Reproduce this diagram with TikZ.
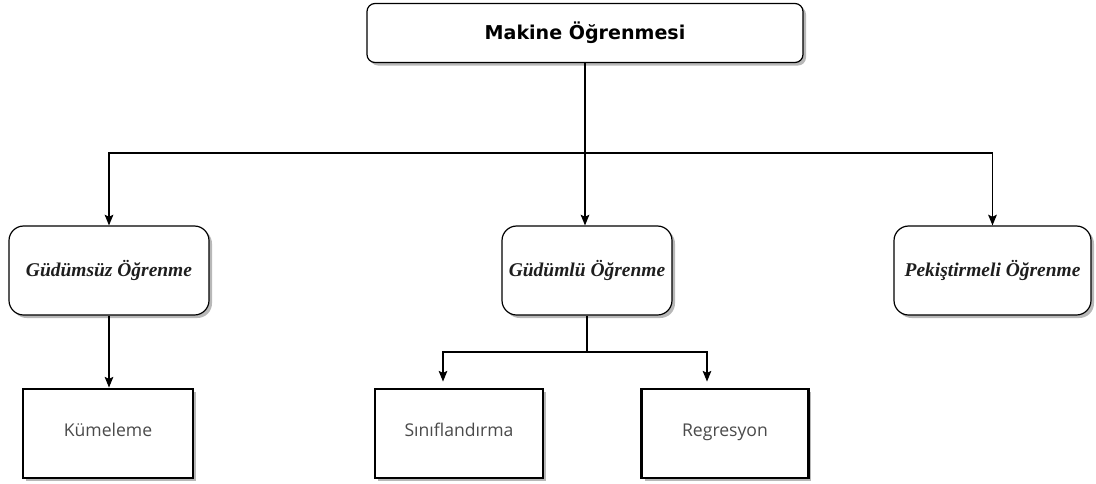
\documentclass[tikz,border=0pt]{standalone}
\usepackage{fontspec}
\usetikzlibrary{arrows.meta,shadows}
\newfontfamily\headfont{DejaVu Sans}
\newfontfamily\branchfont{Liberation Serif}
\newfontfamily\leaffont{Open Sans}
\definecolor{leaftext}{HTML}{4A4A4A}
\definecolor{branchtext}{HTML}{1E1E1E}
\tikzset{
  boxshadow/.style={drop shadow={shadow xshift=2.25pt, shadow yshift=-2.25pt, fill=black, opacity=0.28}},
  rootbox/.style={draw, line width=0.9pt, rounded corners=6pt, fill=white, boxshadow,
    minimum width=327pt, minimum height=44.25pt, font=\headfont\bfseries\fontsize{14.3}{16}\selectfont},
  branchbox/.style={draw, line width=0.9pt, rounded corners=11pt, fill=white, boxshadow,
    minimum height=66.75pt, text=branchtext, font=\branchfont\bfseries\itshape\fontsize{14.6}{16}\selectfont},
  leafbox/.style={draw, line width=2.2pt, fill=white, boxshadow, text height=0.72em, text depth=0.24em,
    minimum height=66.75pt, text=leaftext, font=\leaffont\fontsize{13.2}{15}\selectfont},
  link/.style={line width=0.9pt, -{Stealth[length=8pt,width=6.5pt,inset=1.5pt]}},
  plain/.style={line width=0.9pt}
}
\begin{document}
\begin{tikzpicture}[x=0.75pt,y=-0.75pt]
  \useasboundingbox (0,0) rectangle (1096,483);
  \fill[white] (0,0) rectangle (1096,483);

  % root
  \node[rootbox] (ml) at (585,33) {Makine Öğrenmesi};

  % learning paradigms
  \node[branchbox, minimum width=150pt]   (uns) at (109,270.5) {Güdümsüz Öğrenme};
  \node[branchbox, minimum width=127.5pt] (sup) at (587,270.5) {Güdümlü Öğrenme};
  \node[branchbox, minimum width=147.75pt] (rl) at (992.5,270.5) {Pekiştirmeli Öğrenme};

  % tasks
  \node[leafbox, minimum width=127.5pt] (clu) at (108,433.5) {Kümeleme};
  \node[leafbox, minimum width=126pt]   (cls) at (459,433.5) {Sınıflandırma};
  \node[leafbox, minimum width=125pt]   (reg) at (725,433.5) {Regresyon};

  % root fan-out
  \coordinate (split) at (585,153);
  \draw[plain] (ml.south) -- (split);
  \draw[link] (split) -| (uns.north);
  \draw[link] (split) -- (split |- sup.north);
  \draw[link] (split) -| (rl.north);

  % unsupervised -> clustering
  \draw[link] (uns.south) -- (uns.south |- clu.north);

  % supervised -> classification / regression
  \coordinate (split2) at (587,352);
  \draw[plain] (sup.south) -- (split2);
  \draw[link] (split2) -| ([xshift=-12pt,yshift=4.5pt]cls.north);
  \draw[link] (split2) -| ([xshift=-13.5pt,yshift=4.5pt]reg.north);
\end{tikzpicture}
\end{document}
